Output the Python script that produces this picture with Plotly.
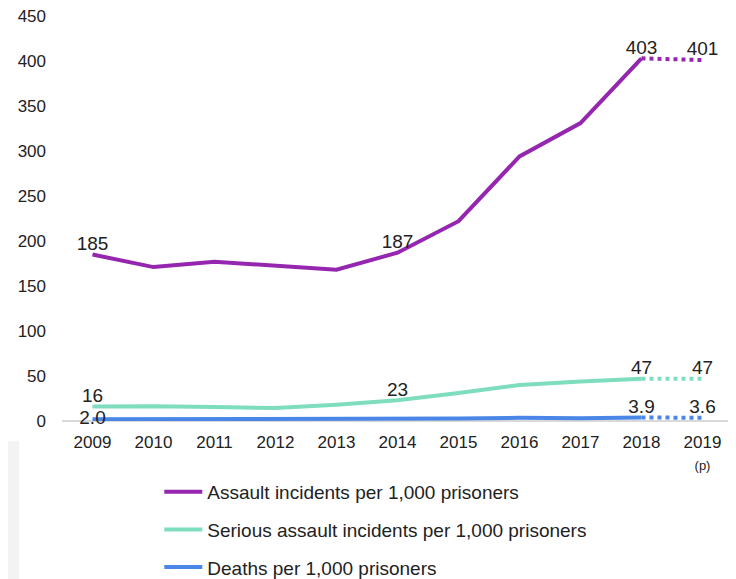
import plotly.graph_objects as go

years = ["2009", "2010", "2011", "2012", "2013", "2014", "2015", "2016", "2017", "2018", "2019"]
tick_labels = ["2009", "2010", "2011", "2012", "2013", "2014", "2015", "2016", "2017", "2018",
               "2019<br><span style='font-size:13px'>(p)</span>"]
assault = [185, 171, 177, 172, 168, 187, 222, 294, 331, 403, 401]
serious = [16, 16.5, 15.5, 14.5, 18, 23, 31, 40, 44, 47, 47]
deaths = [2.0, 2.0, 2.1, 2.2, 2.3, 2.5, 2.8, 3.5, 3.1, 3.9, 3.6]

assault_labels = ["185", "", "", "", "", "187", "", "", "", "403", "401"]
serious_labels = ["16", "", "", "", "", "23", "", "", "", "47", "47"]
deaths_labels = ["2.0", "", "", "", "", "", "", "", "", "3.9", "3.6"]

names = ["Assault incidents per 1,000 prisoners",
         "Serious assault incidents per 1,000 prisoners",
         "Deaths per 1,000 prisoners"]
colors = ["#9526B0", "#7EDDBE", "#4A86E8"]
series = [assault, serious, deaths]
labels = [assault_labels, serious_labels, deaths_labels]

x = list(range(len(years)))
fig = go.Figure()
for i, (nm, col, vals, lab) in enumerate(zip(names, colors, series, labels)):
    pos_solid = ["top center"] * 10
    if i == 2:
        pos_solid[0] = "middle center"
    fig.add_trace(go.Scatter(
        x=x[:10], y=vals[:10], mode="lines+text", name=nm,
        line=dict(color=col, width=4), text=lab[:10], textposition=pos_solid,
        textfont=dict(size=19, color="#222"), cliponaxis=False,
        legendgroup=f"g{i}", showlegend=True, hoverinfo="skip"))
    fig.add_trace(go.Scatter(
        x=x[9:], y=vals[9:], mode="lines+text", name=nm,
        line=dict(color=col, width=4, dash="dot"), text=["", lab[10]],
        textposition=["top center", "top center"],
        textfont=dict(size=19, color="#222"), cliponaxis=False,
        legendgroup=f"g{i}", showlegend=False, hoverinfo="skip"))

# the page body adds an 8px margin, so the figure is 8px smaller than the window
fig.update_layout(
    width=728, height=571,
    margin=dict(l=54, r=3, t=8, b=158, autoexpand=False),
    paper_bgcolor="white", plot_bgcolor="white",
    font=dict(family="Liberation Sans, Arial, sans-serif", color="#222"),
    xaxis=dict(range=[-0.5, 10.5], tickvals=x, ticktext=tick_labels,
               showgrid=False, zeroline=False, showline=False,
               tickfont=dict(size=17), ticks="", ticklabelstandoff=9),
    yaxis=dict(range=[0, 450], tickvals=[0, 50, 100, 150, 200, 250, 300, 350, 400, 450],
               showgrid=False, zeroline=True,
               zerolinecolor="#d9d9d9", zerolinewidth=1.5,
               tickfont=dict(size=17), ticks="", ticklabelstandoff=15,
               ticklabeloverflow="allow"),
    legend=dict(x=0.145, y=-0.128, xanchor="left", yanchor="top",
                font=dict(size=19, color="#222"), tracegroupgap=10,
                itemwidth=38, bgcolor="rgba(0,0,0,0)"),
    shapes=[dict(type="rect", xref="paper", yref="paper",
                 x0=-0.082, x1=-0.064, y0=-0.39, y1=-0.05,
                 fillcolor="#f3f3f3", line=dict(width=0), layer="below")],
)
fig.write_html("out.html")
